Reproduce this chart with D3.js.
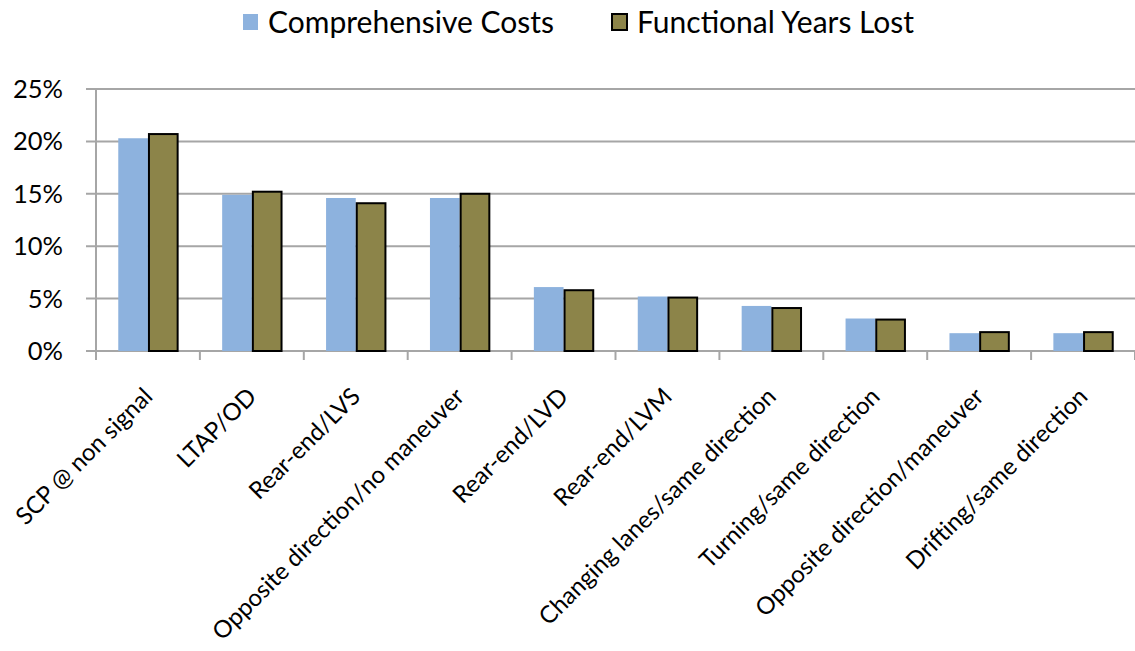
<!DOCTYPE html>
<html>
<head>
<meta charset="utf-8">
<script src="https://cdn.jsdelivr.net/npm/d3@7"></script>
<style>
  body { margin: 0; background: #fff; }
  text { font-family: Lato, "Open Sans", sans-serif; fill: #000; }
</style>
</head>
<body>
<div id="chart"></div>
<script>
var svgWidth = 1135;
var svgHeight = 651;

// chart data
var categories = ["SCP @ non signal", "LTAP/OD", "Rear-end/LVS", "Opposite direction/no maneuver",
  "Rear-end/LVD", "Rear-end/LVM", "Changing lanes/same direction", "Turning/same direction",
  "Opposite direction/maneuver", "Drifting/same direction"];
var comprehensiveCosts = [0.203, 0.149, 0.146, 0.146, 0.061, 0.052, 0.043, 0.031, 0.017, 0.017];
var functionalYearsLost = [0.207, 0.152, 0.141, 0.150, 0.058, 0.051, 0.041, 0.030, 0.018, 0.018];
var seriesNames = ["Comprehensive Costs", "Functional Years Lost"];
var yTicks = [0, 0.05, 0.10, 0.15, 0.20, 0.25];

var margin = { top: 89, right: 0, bottom: 300, left: 96 };
var width = svgWidth - margin.left - margin.right;
var height = svgHeight - margin.top - margin.bottom;

var svg = d3.select("#chart")
  .append("svg")
  .attr("width", svgWidth)
  .attr("height", svgHeight);

var chartGroup = svg.append("g")
  .attr("transform", `translate(${margin.left}, ${margin.top})`);

var x0 = d3.scaleBand()
  .domain(categories)
  .range([0, width]);

// gap width ~150% like excel
var x1 = d3.scaleBand()
  .domain(seriesNames)
  .range([x0.bandwidth() * 0.2143, x0.bandwidth() * (1 - 0.2143)]);

var y = d3.scaleLinear()
  .domain([0, 0.25])
  .range([height, 0]);

// gridlines
chartGroup.append("g")
  .selectAll("line")
  .data(yTicks)
  .enter()
  .append("line")
  .attr("x1", -10)
  .attr("x2", width)
  .attr("y1", d => y(d))
  .attr("y2", d => y(d))
  .attr("stroke", "#a6a6a6")
  .attr("stroke-width", 2);

// y axis line
chartGroup.append("line")
  .attr("x1", 0).attr("x2", 0)
  .attr("y1", 0).attr("y2", height)
  .attr("stroke", "#a6a6a6")
  .attr("stroke-width", 2);

// y tick labels
chartGroup.append("g")
  .selectAll("text")
  .data(yTicks)
  .enter()
  .append("text")
  .attr("x", -33)
  .attr("y", d => y(d))
  .attr("dy", "0.35em")
  .attr("text-anchor", "end")
  .attr("font-size", 25.5)
  .text(d3.format(".0%"));

// x tick marks at band edges
var edges = categories.map(c => x0(c)).concat([width]);
chartGroup.append("g")
  .selectAll("line")
  .data(edges)
  .enter()
  .append("line")
  .attr("x1", d => d).attr("x2", d => d)
  .attr("y1", height).attr("y2", height + 9)
  .attr("stroke", "#a6a6a6")
  .attr("stroke-width", 2);

// bars
var rows = categories.map((c, i) => ({ cat: c, vals: [comprehensiveCosts[i], functionalYearsLost[i]] }));

var groups = chartGroup.selectAll(".grp")
  .data(rows)
  .enter()
  .append("g")
  .attr("transform", d => `translate(${x0(d.cat)}, 0)`);

groups.append("rect")
  .attr("x", x1(seriesNames[0]))
  .attr("width", x1.bandwidth())
  .attr("y", d => y(d.vals[0]))
  .attr("height", d => height - y(d.vals[0]))
  .attr("fill", "#8db2de");

groups.append("rect")
  .attr("x", x1(seriesNames[1]) + 1)
  .attr("width", x1.bandwidth() - 1)
  .attr("y", d => y(d.vals[1]))
  .attr("height", d => height - y(d.vals[1]))
  .attr("fill", "#8c8449")
  .attr("stroke", "#000")
  .attr("stroke-width", 2);

// x labels rotated
chartGroup.append("g")
  .selectAll("text")
  .data(categories)
  .enter()
  .append("text")
  .attr("text-anchor", "end")
  .attr("font-size", 24)
  .attr("transform", d => `translate(${x0(d) + x0.bandwidth() / 2 + 6}, ${height + 47}) rotate(-45)`)
  .text(d => d);

// legend
var legend = svg.append("g");
var legendX = [243, 612];
var legendColors = ["#8db2de", "#8c8449"];

seriesNames.forEach(function(name, i) {
  legend.append("rect")
    .attr("x", legendX[i])
    .attr("y", 14)
    .attr("width", 15)
    .attr("height", 16)
    .attr("fill", legendColors[i])
    .attr("stroke", i === 1 ? "#000" : "none")
    .attr("stroke-width", 2);
  legend.append("text")
    .attr("x", legendX[i] + 25)
    .attr("y", 33)
    .attr("font-size", 30)
    .text(name);
});
</script>
</body>
</html>
